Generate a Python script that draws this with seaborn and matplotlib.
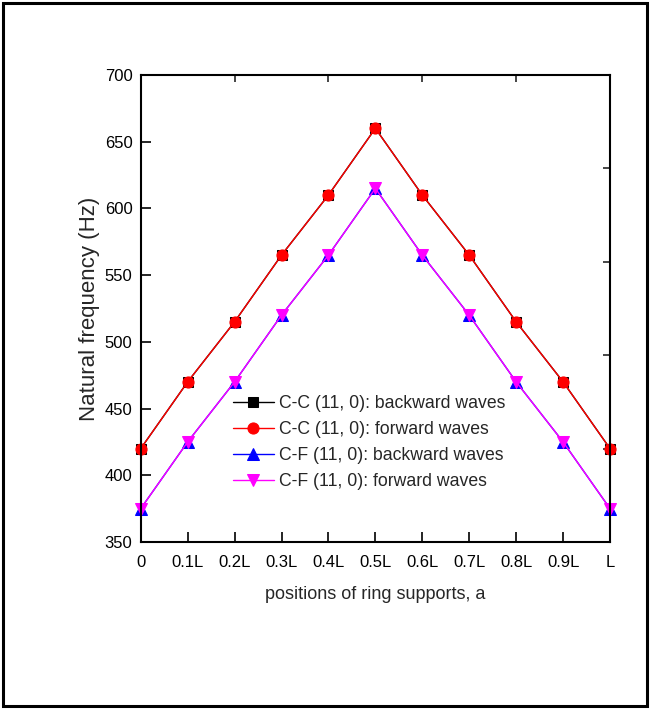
import matplotlib
matplotlib.use("Agg")
import matplotlib.pyplot as plt
import seaborn as sns
import pandas as pd
from matplotlib.patches import Rectangle

positions = [0.0, 0.1, 0.2, 0.3, 0.4, 0.5, 0.6, 0.7, 0.8, 0.9, 1.0]
tick_labels = ["0", "0.1L", "0.2L", "0.3L", "0.4L", "0.5L", "0.6L", "0.7L", "0.8L", "0.9L", "L"]

cc_backward = [420, 470, 515, 565, 610, 660, 610, 565, 515, 470, 420]
cc_forward = [420, 470, 515, 565, 610, 660, 610, 565, 515, 470, 420]
cf_backward = [375, 425, 470, 520, 565, 615, 565, 520, 470, 425, 375]
cf_forward = [375, 425, 470, 520, 565, 615, 565, 520, 470, 425, 375]

series_names = [
    "C-C (11, 0): backward waves",
    "C-C (11, 0): forward waves",
    "C-F (11, 0): backward waves",
    "C-F (11, 0): forward waves",
]
series_values = [cc_backward, cc_forward, cf_backward, cf_forward]

sns.set_theme(style="ticks")
plt.rcParams["font.family"] = ["Liberation Sans", "DejaVu Sans"]

frames = []
for name, vals in zip(series_names, series_values):
    frames.append(pd.DataFrame({"a": positions, "freq": vals, "series": name}))
df = pd.concat(frames, ignore_index=True)

palette = dict(zip(series_names, ["#000000", "#FF0000", "#0000FF", "#FF00FF"]))
markers = dict(zip(series_names, ["s", "o", "^", "v"]))
sizes = dict(zip(series_names, [7, 8, 8, 8]))

fig = plt.figure(figsize=(6.5, 7.1), dpi=100)
ax = fig.add_axes([0.2165, 0.2366, 0.722, 0.6578])

for name in series_names:
    sub = df[df["series"] == name]
    sns.lineplot(data=sub, x="a", y="freq", ax=ax, color=palette[name],
                 marker=markers[name], markersize=sizes[name],
                 markeredgecolor=palette[name], linewidth=1.0,
                 label=name, clip_on=False)

ax.set_xlim(0, 1.0)
ax.set_ylim(350, 700)
ax.set_xticks(positions)
ax.set_xticklabels(tick_labels)
ax.set_yticks([350, 400, 450, 500, 550, 600, 650, 700])
ax.tick_params(axis="both", direction="in", length=7, width=1.2,
               labelsize=12, colors="black")
ax.tick_params(axis="x", pad=9)
ax.tick_params(axis="y", pad=6)
for sp in ax.spines.values():
    sp.set_linewidth(1.5)
    sp.set_color("black")

# secondary tick marks on top and right edges
top = ax.secondary_xaxis("top")
top.set_xticks([0.2, 0.4, 0.6, 0.8, 1.0])
top.set_xticklabels([])
top.tick_params(direction="in", length=5, width=1.2)
right = ax.secondary_yaxis("right")
right.set_yticks([420, 490, 560, 630])
right.set_yticklabels([])
right.tick_params(direction="in", length=5, width=1.2)

ax.set_xlabel("positions of ring supports, a", fontsize=13, labelpad=12)
ax.set_ylabel("Natural frequency (Hz)", fontsize=16, labelpad=3)

leg = ax.legend(loc="center left", bbox_to_anchor=(0.1815, 0.213), frameon=False,
                fontsize=12.7, handlelength=2.3, handletextpad=0.3,
                labelspacing=0.5, borderaxespad=0)

fig.patches.append(Rectangle((0.004, 0.006), 0.992, 0.99, transform=fig.transFigure,
                             fill=False, edgecolor="black", linewidth=2.2))

fig.savefig("out.png", dpi=100)
